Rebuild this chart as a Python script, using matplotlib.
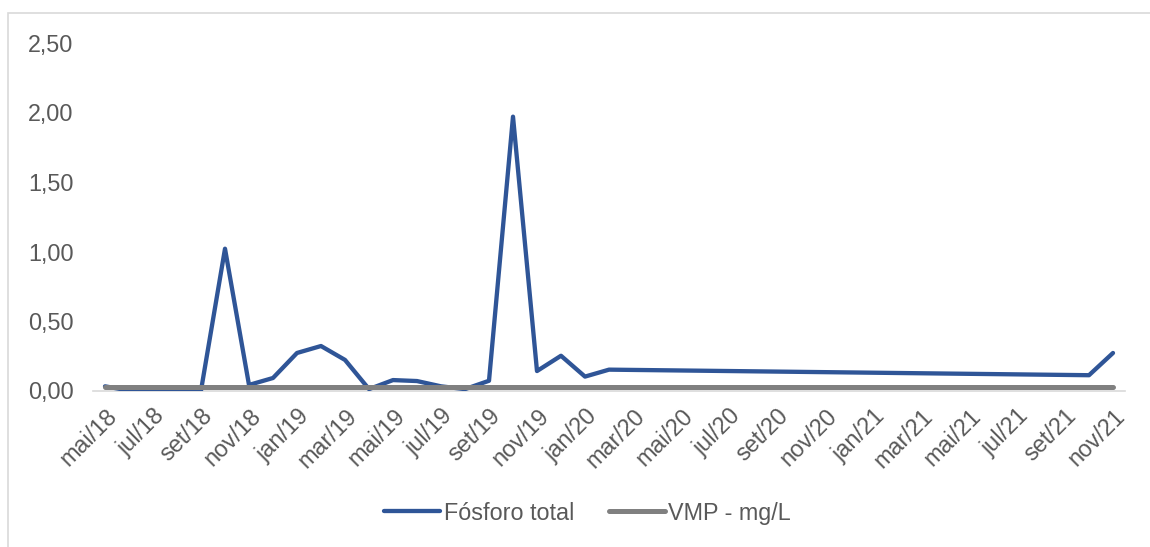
import matplotlib

matplotlib.use("Agg")
import matplotlib.pyplot as plt
import numpy as np
from matplotlib.patches import Rectangle

plt.rcParams["font.family"] = ["Liberation Sans", "DejaVu Sans"]

# monthly samples (Excel date axis, month base)
MESES_AMOSTRA = [
    "2018-05", "2018-06", "2018-07", "2018-08", "2018-09", "2018-10",
    "2018-11", "2018-12", "2019-01", "2019-02", "2019-03", "2019-04",
    "2019-05", "2019-06", "2019-07", "2019-08", "2019-09", "2019-10",
    "2019-11", "2019-12", "2020-01", "2020-02", "2021-10", "2021-11",
]
FOSFORO = [
    0.03, 0.00, 0.00, 0.00, 0.00, 1.02,
    0.04, 0.09, 0.27, 0.32, 0.22, 0.01,
    0.075, 0.068, 0.03, 0.01, 0.07, 1.97,
    0.14, 0.25, 0.10, 0.15, 0.11, 0.27,
]
VMP = [0.025] * len(MESES_AMOSTRA)

MESES = ["jan", "fev", "mar", "abr", "mai", "jun",
         "jul", "ago", "set", "out", "nov", "dez"]
INICIO = (2018, 5)
FIM = (2021, 11)

BLUE = "#2F5597"
GRAY = "#808080"
TXT = "#595959"
FS = 16.8


def idx(ano, mes):
    return (ano - INICIO[0]) * 12 + mes - INICIO[1]


x = [idx(int(m[:4]), int(m[5:])) for m in MESES_AMOSTRA]
n_meses = idx(*FIM)

fig = plt.figure(figsize=(11.5, 5.47), dpi=100)
fig.patches.append(Rectangle((8 / 1150, -0.1), 1.2, (547 - 13) / 547 + 0.1,
                             transform=fig.transFigure, fill=False,
                             edgecolor="#D9D9D9", linewidth=1.2))
ax = fig.add_axes([93 / 1150, (547 - 390.5) / 547, 1032 / 1150, 347.5 / 547])

ax.plot(x, FOSFORO, color=BLUE, lw=3.1, solid_capstyle="round",
        solid_joinstyle="round", label="Fósforo total", zorder=2)
ax.plot(x, VMP, color=GRAY, lw=3.6, solid_capstyle="round",
        label="VMP - mg/L", zorder=3)

yt = np.arange(0, 2.51, 0.5)
ax.set_ylim(0, 2.5)
ax.set_yticks(yt)
ax.set_yticklabels([f"{v:.2f}".replace(".", ",") for v in yt])
ax.set_xlim(-0.5, n_meses + 0.5)

xt = list(range(0, n_meses + 1, 2))
lab = []
for k in xt:
    m = INICIO[1] - 1 + k
    lab.append(f"{MESES[m % 12]}/{(INICIO[0] + m // 12) % 100:02d}")
ax.set_xticks(xt)
ax.set_xticklabels(lab, rotation=45, ha="right", rotation_mode="anchor")

ax.tick_params(axis="both", length=0, labelsize=FS, labelcolor=TXT)
ax.tick_params(axis="y", pad=14)
ax.tick_params(axis="x", pad=10)
for s in ["top", "right", "left"]:
    ax.spines[s].set_visible(False)
ax.spines["bottom"].set_color("#D9D9D9")
ax.spines["bottom"].set_linewidth(1.2)
ax.spines["bottom"].set_zorder(1)

fig.legend(loc="center", bbox_to_anchor=(0.511, 0.062), ncol=2, frameon=False,
           fontsize=FS, labelcolor=TXT, handlelength=2.4, handletextpad=0.15,
           columnspacing=1.5)

fig.savefig("out.png", dpi=100)
